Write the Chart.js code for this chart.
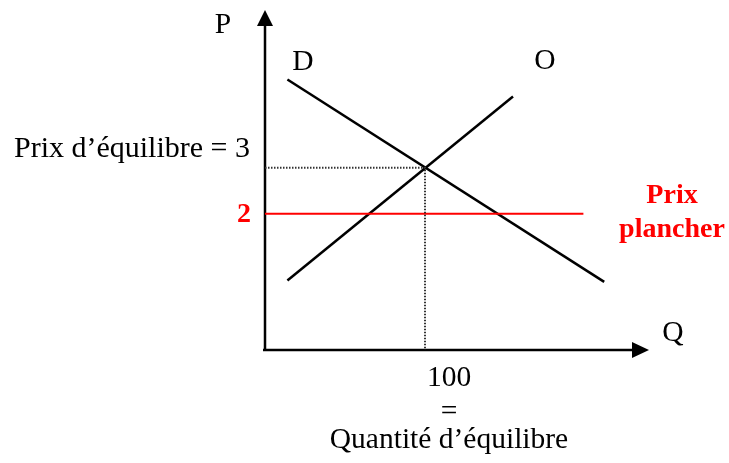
<!DOCTYPE html>
<html lang="fr">
<head>
<meta charset="utf-8">
<script src="https://cdn.jsdelivr.net/npm/chart.js@4.4.1/dist/chart.umd.min.js"></script>
<style>
  html, body { margin: 0; padding: 0; background: #fff; }
  #wrap { width: 729px; height: 463px; }
</style>
</head>
<body>
<div id="wrap"><canvas id="marche"></canvas></div>
<script>
// Marché avec prix plancher
const qEquilibre = 100;
const pEquilibre = 3;
const pPlancher = 2;
const qMax = 240, pMin = -0.96, pMax = 6.43; // bornes des axes

const demande = [{ x: 14, y: 4.92 }, { x: 212, y: 0.52 }];
const offre = [{ x: 14, y: 0.55 }, { x: 155, y: 4.55 }];
const plancher = [{ x: 0, y: pPlancher }, { x: 199, y: pPlancher }];
const pointilles = [{ x: 0, y: pEquilibre }, { x: qEquilibre, y: pEquilibre }, { x: qEquilibre, y: pMin }];

const labelPrixEq = `Prix d’équilibre = ${pEquilibre}`;
const labelQteEq = ['100', '=', 'Quantité d’équilibre'];
const labelPlancher = ['Prix', 'plancher'];

const NOIR = '#000', ROUGE = '#ff0000';
const SERIF = '"Liberation Serif", "Times New Roman", serif';

// axes fléchés + textes
const dessin = {
  id: 'dessin',
  beforeDatasetsDraw(chart) {
    const { ctx, chartArea: a } = chart;
    ctx.save();
    ctx.strokeStyle = NOIR; ctx.fillStyle = NOIR; ctx.lineWidth = 2.5;
    ctx.beginPath();
    ctx.moveTo(a.left, a.bottom); ctx.lineTo(a.left, a.top + 14);
    ctx.moveTo(a.left - 2, a.bottom); ctx.lineTo(a.right - 14, a.bottom);
    ctx.stroke();
    ctx.beginPath();
    ctx.moveTo(a.left, a.top); ctx.lineTo(a.left - 8, a.top + 16); ctx.lineTo(a.left + 8, a.top + 16); ctx.closePath();
    ctx.moveTo(a.right, a.bottom); ctx.lineTo(a.right - 17, a.bottom - 8); ctx.lineTo(a.right - 17, a.bottom + 8); ctx.closePath();
    ctx.fill();
    ctx.restore();
  },
  afterDatasetsDraw(chart) {
    const { ctx, chartArea: a, scales: { x, y } } = chart;
    ctx.save();
    ctx.textBaseline = 'alphabetic';
    ctx.fillStyle = NOIR;
    ctx.font = `29.5px ${SERIF}`;
    ctx.textAlign = 'center';
    ctx.fillText('P', a.left - 42, a.top + 23);
    ctx.fillText('D', 303, 70);
    ctx.fillText('O', 545, 69);
    ctx.fillText('Q', a.right + 24, a.bottom - 9);
    ctx.textAlign = 'right';
    ctx.font = `30px ${SERIF}`;
    ctx.fillText(labelPrixEq, a.left - 15, y.getPixelForValue(pEquilibre) - 11);
    ctx.textAlign = 'center';
    ctx.font = `29.5px ${SERIF}`;
    const cx = x.getPixelForValue(qEquilibre) + 24;
    ctx.fillText(labelQteEq[0], cx, a.bottom + 36);
    ctx.fillText(labelQteEq[1], cx, a.bottom + 70);
    ctx.fillText(labelQteEq[2], cx, a.bottom + 98);
    ctx.fillStyle = ROUGE;
    ctx.font = `bold 28px ${SERIF}`;
    ctx.fillText(String(pPlancher), a.left - 21, y.getPixelForValue(pPlancher) + 8);
    ctx.fillText(labelPlancher[0], 672, 203);
    ctx.fillText(labelPlancher[1], 672, 237);
    ctx.restore();
  }
};

const ligne = (data, color, width, dash) => ({
  data, borderColor: color, borderWidth: width, borderDash: dash || [],
  pointRadius: 0, showLine: true, fill: false, tension: 0, borderCapStyle: 'butt'
});

new Chart(document.getElementById('marche'), {
  type: 'scatter',
  data: {
    datasets: [
      ligne(pointilles, '#333', 2, [1.5, 1.5]),
      ligne(plancher, ROUGE, 2),
      ligne(demande, NOIR, 2.5),
      ligne(offre, NOIR, 2.5)
    ]
  },
  options: {
    responsive: true, maintainAspectRatio: false, animation: false,
    layout: { padding: { left: 265, right: 80, top: 10, bottom: 113 } },
    plugins: { legend: { display: false }, tooltip: { enabled: false } },
    scales: {
      x: { type: 'linear', min: 0, max: qMax, display: false },
      y: { type: 'linear', min: pMin, max: pMax, display: false }
    }
  },
  plugins: [dessin]
});
</script>
</body>
</html>
